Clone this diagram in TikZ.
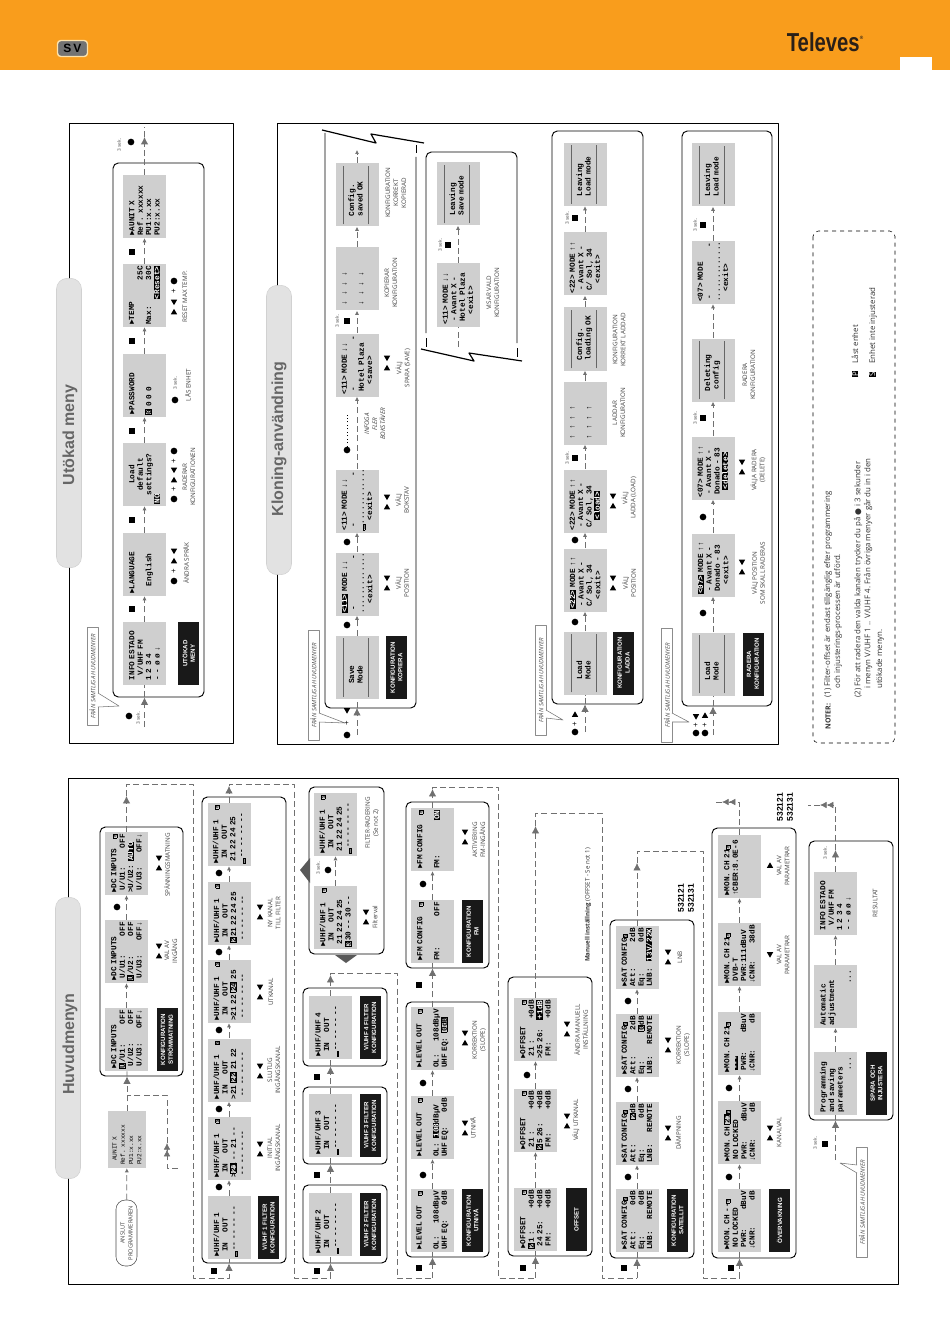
\documentclass[tikz,border=0pt]{standalone}
\usepackage{fontspec}
\usepackage{graphicx}
\setmainfont{Open Sans}
\newfontfamily\lcdfont{Liberation Mono}
\newfontfamily\headfont{Liberation Sans}
\newfontfamily\symfont{DejaVu Sans}
\usetikzlibrary{arrows.meta,fit,shapes.geometric}
\definecolor{lcdgray}{HTML}{CFCFCF}
\definecolor{tabgray}{HTML}{E2E2E2}
\definecolor{flowgray}{HTML}{707070}
\definecolor{headorange}{HTML}{F99D1C}
\definecolor{logodark}{HTML}{2A2018}
\lineskip=0pt
\lineskiplimit=-4pt
\newcommand{\inv}[1]{{\setlength{\fboxsep}{0.3pt}\colorbox{black}{\textcolor{white}{#1}}}}
\newcommand{\cur}[1]{{\setlength{\fboxsep}{0.1pt}\setlength{\fboxrule}{0.4pt}\fbox{#1}}}
\newcommand{\lk}{{\setlength{\fboxsep}{0.1pt}\setlength{\fboxrule}{0.3pt}\fbox{\fontsize{3.6}{3.6}\selectfont S}}}
\newcommand{\dashrow}{\textcolor{black!60}{\rule[1.6pt]{44pt}{.5pt}}}
\tikzset{
  lcd/.style={rotate=90,fill=lcdgray,minimum width=47.25pt,minimum height=32.25pt,inner xsep=1.6pt,inner ysep=0pt,
    text width=44pt,align=left,font=\lcdfont\bfseries\fontsize{5.8}{6.3}\selectfont},
  tag/.style={rotate=90,fill=black!90,text=white,minimum width=47.25pt,minimum height=15.75pt,inner sep=0pt,
    align=center,font=\headfont\bfseries\fontsize{4.6}{5.8}\selectfont},
  panel/.style={draw,fill=white,line width=.7pt,rounded corners=4pt,inner sep=0pt},
  frame/.style={line width=.7pt},
  tabbar/.style={rotate=90,fill=tabgray,draw=black!18,rounded corners=8pt,minimum height=18.75pt},
  tabtext/.style={rotate=90,inner sep=0pt,text=black!60,font=\headfont\bfseries\fontsize{12}{13}\selectfont},
  flow/.style={flowgray,line width=.5pt,dash pattern=on 4.5pt off 2.5pt,-{Latex[length=3pt,width=3pt]}},
  bigflow/.style={flow,-{Latex[length=5.5pt,width=5.5pt]}},
  plainflow/.style={flow,-},
  twotip/.style={flow,-{Latex[length=5pt,width=5pt]Latex[length=5pt,width=5pt]}},
  pressdot/.style={circle,fill=black,minimum size=5pt,inner sep=0pt},
  pressbox/.style={rectangle,fill=black,minimum size=4.6pt,inner sep=0pt},
  upkey/.style={regular polygon,regular polygon sides=3,fill=black,minimum size=5.5pt,inner sep=0pt},
  downkey/.style={upkey,shape border rotate=180},
  capnote/.style={rotate=90,align=center,inner sep=0pt,text=black!75,font=\fontsize{4.7}{6}\selectfont},
  footnote/.style={rotate=90,anchor=west,inner sep=0pt,text=black!80,font=\fontsize{5.9}{6}\selectfont},
  fromall/.style={rotate=90,draw=black!45,fill=white,minimum height=8pt,inner sep=0pt,text=black!70,
    font=\itshape\fontsize{4.5}{5}\selectfont},
  calltip/.style={draw=black!55,fill=white,line width=.4pt},
  serial/.style={rotate=90,align=center,inner sep=0pt,font=\headfont\bfseries\fontsize{6.3}{7.5}\selectfont},
  seclabel/.style={rotate=90,inner sep=0pt,font=\fontsize{3.6}{4}\selectfont,text=black!70}
}
\begin{document}
\begin{tikzpicture}[x=0.75pt,y=-0.75pt,line join=round]
\useasboundingbox (0,0) rectangle (950,1344);
% head
\fill[headorange] (0,0) rectangle (950,70);
\fill[white] (900,57) rectangle (932,70);
\node[draw=yellow!30!orange!30,line width=1pt,fill=black!55,rounded corners=2.5pt,minimum width=22.5pt,minimum height=12pt,inner sep=0pt,font=\headfont\bfseries\fontsize{9}{9}\selectfont] (lang) at (72.5,48.5) {S\,V};
\node[text=logodark,inner sep=0pt,font=\headfont\bfseries\fontsize{19.5}{20}\selectfont] (brand) at (825,42) {\scalebox{.78}[1]{Televes}\raisebox{9pt}{\fontsize{3.5}{4}\selectfont ®}};
% frames
\draw[frame] (68,778) rectangle (898,1284);
\draw[frame] (69,123) rectangle (233,743);
\draw[frame] (277,123) rectangle (778,744);
\node[tabbar,minimum width=211pt] (tabhuvud) at (68,1038) {};
\node[tabbar,minimum width=217pt] (tabutok) at (69,423) {};
\node[tabbar,minimum width=217pt] (tabklon) at (279,430) {};
\node[tabtext] (texthuvud) at (70,1044) {Huvudmenyn};
\node[tabtext] (textutok) at (70,435) {Utökad meny};
\node[tabtext] (textklon) at (279,439) {Kloning-användning};
% panels
\node[panel,fit={(100,827)(183,1076)}] (dcbox) {};
\node[panel,fit={(202,797)(286,1263)}] (uhfbox) {};
\node[panel,fit={(303,1185)(387,1263)}] (vtwo) {};
\node[panel,fit={(303,1087)(387,1164)}] (vthree) {};
\node[panel,fit={(303,988)(387,1066)}] (vfour) {};
\node[panel,fit={(309,787)(384,954)}] (erasebox) {};
\node[panel,fit={(406,1002)(489,1257)}] (levelbox) {};
\node[panel,fit={(406,802)(489,968)}] (fmbox) {};
\node[panel,fit={(508,977)(592,1256)}] (offbox) {};
\node[panel,fit={(610,920)(694,1258)}] (satbox) {};
\node[panel,fit={(712,828)(796,1258)}] (monbox) {};
\node[panel,fit={(809,841)(893,1120)}] (savebox) {};
\node[panel,fit={(113,163)(204,697)}] (utokbox) {};
\node[panel,fit={(552,131)(643,704)}] (loadbox) {};
\node[panel,fit={(682,131)(772,706)}] (delbox) {};
% broken panels
\draw[line width=.7pt,rounded corners=4pt] (325,133) -- (325,708) -- (416,708) -- (416,157);
\draw[line width=.7pt] (416,145) -- (416,153);
\draw[line width=.9pt] (322,130) -- (376,143) -- (371,134) -- (424,143);
\draw[line width=.7pt,rounded corners=4pt] (426,333) -- (426,152) -- (517,152) -- (517,343);
\draw[line width=.7pt] (426,338) -- (426,347) (517,348) -- (517,357);
\draw[line width=.9pt] (421,349) -- (474,361) -- (469,353) -- (522,361);
% Huvudmenyn
\node[lcd,minimum width=42.75pt,minimum height=28.5pt,text width=38pt,font=\lcdfont\fontsize{4.6}{6.2}\selectfont] (aunit) at (127,1139.5) {~~AUNIT X\\Ref. xxxxxx\\PU1:x.xx\\PU2:x.xx};
\node[draw=black!70,fill=white,rounded corners=7pt,rotate=90,minimum width=49.5pt,minimum height=15.75pt,inner sep=0pt,align=center,font=\fontsize{4.3}{6}\selectfont,text=black!75] (anslut) at (126.5,1233) {ANSLUT\\PROGRAMMERAREN};
\node[lcd] (dc1) at (126.5,1039.5) {►DC INPUTS\\\cur{U}/U1:\hfill OFF\\~U/U2:\hfill OFF\\~U/U3:\hfill OFF↓};
\node[lcd] (dc2) at (126.5,951.5) {►DC INPUTS\\~U/U1:\hfill OFF\\\cur{U}/U2:\hfill OFF\\~U/U3:\hfill OFF↓};
\node[lcd] (dc3) at (126.5,863.5) {►DC INPUTS\hfill\lk\\~U/U1:\hfill OFF\\>U/U2: \inv{AUTO}\\~U/U3:\hfill OFF↓};
\node[tag] (tagdc) at (167,1039.5) {KONFIGURATION\\STRÖMMATNING};
\node[lcd] (uhf1) at (229,1227.5) {►UHF/UHF 1\\~~IN~~~~OUT\\\cur{\_}--~--~--~--\\~};
\node[lcd] (uhf2) at (229,1148.5) {►UHF/UHF 1\hfill\lk\\~~IN~~~~OUT\\>\cur{21}~--~21~--\\~--~--~--~--};
\node[lcd] (uhf3) at (229,1070) {►UHF/UHF 1\hfill\lk\\~~IN~~~~OUT\\>21~\cur{22}~21~22\\~--~--~--~--};
\node[lcd] (uhf4) at (229,991.5) {►UHF/UHF 1\hfill\lk\\~~IN~~~~OUT\\>21~22~\cur{24}~25\\~--~--~--~--};
\node[lcd] (uhf5) at (229,913.5) {►UHF/UHF 1\hfill\lk\\~~IN~~~~OUT\\\cur{2}21~22~24~25\\~--~--~--~--};
\node[lcd] (uhf6) at (229,834.5) {►UHF/UHF 1\hfill\lk\\~~IN~~~~OUT\\~21~22~24~25\\\cur{\_}--~--~--~--};
\node[tag] (taguhf) at (268.5,1227.5) {V/UHF 1 FILTER\\KONFIGURATION};
\node[lcd] (vtwol) at (330.5,1224.5) {►UHF/UHF 2\\~~IN~~~~OUT\\\cur{\_}--~--~--~--\\~};
\node[tag] (tagvtwo) at (370,1224.5) {V/UHF 2 FILTER\\KONFIGURATION};
\node[lcd] (vthreel) at (330.5,1125.5) {►UHF/UHF 3\\~~IN~~~~OUT\\\cur{\_}--~--~--~--\\~};
\node[tag] (tagvthree) at (370,1125.5) {V/UHF 3 FILTER\\KONFIGURATION};
\node[lcd] (vfourl) at (330.5,1027.5) {►UHF/UHF 4\\~~IN~~~~OUT\\\cur{\_}--~--~--~--\\~};
\node[tag] (tagvfour) at (370,1027.5) {V/UHF 4 FILTER\\KONFIGURATION};
\node[lcd] (erase1) at (335.5,917.5) {►UHF/UHF 1\hfill\lk\\~~IN~~~~OUT\\~21~22~24~25\\\cur{3}30~--~30~--};
\node[lcd] (erase2) at (335.5,824.5) {►UHF/UHF 1\hfill\lk\\~~IN~~~~OUT\\~21~22~24~25\\\cur{\_}--~--~--~--};
\node[lcd] (level1) at (432.5,1220.5) {►LEVEL OUT\hfill\lk\\~\\OL:\hfill 108dBµV\\UHF EQ:\hfill 0dB};
\node[lcd] (level2) at (432.5,1127.5) {►LEVEL OUT\hfill\lk\\~\\OL:~~\inv{108}dBµV\\UHF EQ:\hfill 0dB};
\node[lcd] (level3) at (432.5,1038.5) {►LEVEL OUT\hfill\lk\\~\\OL:\hfill 108dBµV\\UHF EQ:~~\cur{0dB}};
\node[tag] (taglevel) at (472.5,1220.5) {KONFIGURATION\\UTNIVÅ};
\node[lcd] (fm1) at (432.5,931.5) {►FM CONFIG\hfill\lk\\~\\FM:\hfill OFF\\~};
\node[lcd] (fm2) at (432.5,839.5) {►FM CONFIG\hfill\lk\\~\\FM:\hfill\inv{ON}\\~};
\node[tag] (tagfm) at (472.5,931.5) {KONFIGURATION\\FM};
\node[lcd] (off1) at (535.5,1219.5) {►OFFSET\hfill\lk\\\cur{2}1~:\hfill +0dB\\~24~25:\hfill +0dB\\~FM:\hfill +0dB};
\node[lcd] (off2) at (535.5,1120.5) {►OFFSET\hfill\lk\\~21~:\hfill +0dB\\\cur{2}5~26:\hfill +0dB\\~FM:\hfill +0dB};
\node[lcd] (off3) at (535.5,1029.5) {►OFFSET\hfill\lk\\~21~:\hfill +0dB\\>25~26:\hfill\inv{+1dB}\\~FM:\hfill +0dB};
\node[tag] (tagoff) at (576.5,1219.5) {OFFSET};
\node[lcd] (sat1) at (637,1220.5) {►SAT CONFIG\lk\\Att:\hfill 0dB\\Eq:\hfill 0dB\\LNB:\hfill REMOTE};
\node[lcd] (sat2) at (637,1133.5) {►SAT CONFIG\lk\\Att:\hfill\cur{2}dB\\Eq:\hfill 0dB\\LNB:\hfill REMOTE};
\node[lcd] (sat3) at (637,1045.5) {►SAT CONFIG\lk\\Att:\hfill 2dB\\Eq:\hfill\cur{0}dB\\LNB:\hfill REMOTE};
\node[lcd] (sat4) at (637,957.5) {►SAT CONFIG\lk\\Att:\hfill 2dB\\Eq:\hfill 0dB\\LNB:\hfill\inv{13V/22K}};
\node[tag] (tagsat) at (677.5,1220.5) {KONFIGURATION\\SATELLIT};
\node[lcd] (mon1) at (739.5,1220.5) {►MON. CH --\lk\\~NO LOCKED\\~PWR:\hfill dBuV\\↓CNR:\hfill dB};
\node[lcd] (mon2) at (739.5,1132.5) {►MON. CH \cur{21}\lk\\~NO LOCKED\\~PWR:\hfill dBuV\\↓CNR:\hfill dB};
\node[lcd] (mon3) at (739.5,1043.5) {►MON. CH 21\lk\\~\inv{---}\\~PWR:\hfill dBuV\\↓CNR:\hfill dB};
\node[lcd] (mon4) at (739.5,954.5) {►MON. CH 21\lk\\~DVB-T\\~PWR:111dBuV\\↓CNR:\hfill 38dB};
\node[lcd] (mon5) at (739.5,866.5) {►MON. CH 21\lk\\↑CBER:8.0E-6\\~\\~};
\node[tag] (tagmon) at (779.5,1220.5) {ÖVERVAKNING};
\node[lcd] (prog1) at (835.5,1083.5) {Programming\\and saving\\parameters\\\hfill ...~~};
\node[lcd] (prog2) at (835.5,996.5) {Automatic\\adjustment\\~\\\hfill ...~~};
\node[lcd] (prog3) at (835.5,903.5) {~INFO ESTADO\\~~~V/UHF FM\\~1 2 3 4\\~- - ø ø ↓};
\node[tag] (tagprog) at (876.5,1083.5) {SPARA OCH\\INJUSTERA};
% Utokad meny
\node[lcd] (ut1) at (144.5,653.5) {~INFO ESTADO\\~~~V/UHF FM\\~1 2 3 4\\~- - ø ø ↓};
\node[lcd] (ut2) at (144.5,564.5) {►LANGUAGE\\~\\~~~English\\~};
\node[lcd] (ut3) at (144.5,474.5) {\centering Load\\default\\settings?\\\inv{NO}};
\node[lcd] (ut4) at (144.5,385.5) {►PASSWORD\\~\\\cur{0}~0~0~0\\~};
\node[lcd] (ut5) at (144.5,295.5) {►TEMP\\\hfill 25C~\\Max:\hfill 30C~\\\hfill\inv{<Reset>}};
\node[lcd] (ut6) at (144.5,206.5) {►AUNIT X\\Ref. xxxxxx\\PU1:x.xx\\PU2:x.xx};
\node[tag] (tagut) at (188.5,653.5) {UTÖKAD\\MENY};
% Kloning
\node[lcd] (cp1) at (357,667.5) {\dashrow\\~~~~~Save\\~~~~~Mode\\\dashrow};
\node[lcd] (cp2) at (357,584) {\inv{<11>} MODE ↓↓\\~-\hfill -~\\.............\\~~~~<exit>};
\node[lcd] (cp3) at (357,501) {<11> MODE ↓↓\\~-\hfill -~\\\cur{\_}............\\~~~~<exit>};
\node[lcd] (cp4) at (357,365) {<11> MODE ↓↓\\~-\hfill -~\\~Hotel Plaza\\~~~~<save>};
\node[lcd] (cp5) at (357,279) {~↓~~↓~~↓~~↓\\~\\~↓~~↓~~↓~~↓\\~};
\node[lcd] (cp6) at (357,195) {\dashrow\\~~~Config.\\~~~saved OK\\\dashrow};
\node[tag] (tagcp) at (396.5,667.5) {KONFIGURATION\\KOPIERA};
\node[lcd] (sv1) at (458,295) {<11> MODE ↓↓\\~- Avant X -\\~Hotel Plaza\\~~~~<exit>};
\node[lcd] (sv2) at (458,194) {\dashrow\\~~~Leaving\\~~~Save mode\\\dashrow};
\node[lcd] (ld1) at (585,663) {\dashrow\\~~~~~Load\\~~~~~Mode\\\dashrow};
\node[lcd] (ld2) at (585,580) {\inv{<22>} MODE ↑↑\\~- Avant X -\\~C/ Sol, 34\\~~~~<exit>};
\node[lcd] (ld3) at (585,501) {<22> MODE ↑↑\\~- Avant X -\\~C/ Sol, 34\\~~~~\inv{<load>}};
\node[lcd] (ld4) at (585,413) {~↑~~↑~~↑~~↑\\~\\~↑~~↑~~↑~~↑\\~};
\node[lcd] (ld5) at (585,339) {\dashrow\\~~~Config.\\~~~loading OK\\\dashrow};
\node[lcd] (ld6) at (585,264) {<22> MODE ↑↑\\~- Avant X -\\~C/ Sol, 34\\~~~~<exit>};
\node[lcd] (ld7) at (585,174.5) {\dashrow\\~~~Leaving\\~~~Load mode\\\dashrow};
\node[tag] (tagld) at (623.5,663) {KONFIGURATION\\LADDA};
\node[lcd] (de1) at (713,664) {\dashrow\\~~~~~Load\\~~~~~Mode\\\dashrow};
\node[lcd] (de2) at (713,565) {\inv{<07>} MODE ↑↑\\~- Avant X -\\~Donado - 83\\~~~~<exit>};
\node[lcd] (de3) at (713,468) {<07> MODE ↑↑\\~- Avant X -\\~Donado - 83\\~~~\inv{<delete>}};
\node[lcd] (de4) at (713,370) {\dashrow\\~~~Deleting\\~~~~config\\\dashrow};
\node[lcd] (de5) at (713,272.5) {<07> MODE\\~-\hfill -~\\.............\\~~~~<exit>};
\node[lcd] (de6) at (713,175) {\dashrow\\~~~Leaving\\~~~Load mode\\\dashrow};
\node[tag] (tagde) at (753,664) {RADERA\\KONFIGURATION};
% connectors
\foreach \a/\b in {dc1/dc2,dc2/dc3,uhf1/uhf2,uhf2/uhf3,uhf3/uhf4,uhf4/uhf5,uhf5/uhf6,erase1/erase2,level1/level2,level2/level3,fm1/fm2,
  off1/off2,off2/off3,sat1/sat2,sat2/sat3,sat3/sat4,mon1/mon2,mon2/mon3,mon3/mon4,mon4/mon5,prog1/prog2,prog2/prog3,
  ut1/ut2,ut2/ut3,ut3/ut4,ut4/ut5,ut5/ut6,cp1/cp2,cp2/cp3,cp3/cp4,cp4/cp5,cp5/cp6,sv1/sv2,
  ld1/ld2,ld2/ld3,ld3/ld4,ld4/ld5,ld5/ld6,ld6/ld7,de1/de2,de2/de3,de3/de4,de4/de5,de5/de6,anslut/aunit}
  \draw[flow] (\a) -- (\b);
\draw[bigflow] (aunit) -- (aunit |- dcbox.south);
\draw[plainflow] (aunit |- dcbox.south) -- (dc1);
\coordinate (loopa) at (178,1168);
\coordinate (loopb) at (167,1143);
\draw[twotip] (loopa) -- (167,1168) -- (loopb);
\draw[plainflow] (loopb) -- (167,1095) -- (126.5,1095);
\coordinate (dcout) at (126.5,796);
\draw[bigflow] (dc3) -- (dcout);
\draw[plainflow] (dcout) -- (126.5,784) -- (193,784) -- (193,1278) -- (229,1278) -- (229,1270);
\draw[bigflow] (229,1270) -- (uhf1 |- uhfbox.south);
\draw[plainflow] (uhf1 |- uhfbox.south) -- (uhf1);
\draw[bigflow] (uhf6) -- (229,786);
\draw[plainflow] (229,786) -- (229,784) -- (294,784) -- (294,1278) -- (330.5,1278);
\draw[bigflow] (330.5,1278) -- (vtwol |- vtwo.south);
\draw[plainflow] (vtwol |- vtwo.south) -- (vtwol);
\draw[bigflow] (vtwol) -- (vthreel |- vthree.south);
\draw[plainflow] (vthreel |- vthree.south) -- (vthreel);
\draw[bigflow] (vthreel) -- (vfourl |- vfour.south);
\draw[plainflow] (vfourl |- vfour.south) -- (vfourl);
\draw[bigflow] (vfourl) -- (330.5,975);
\draw[plainflow] (330.5,975) -- (330.5,973) -- (397,973) -- (397,1278) -- (432.5,1278);
\draw[bigflow] (432.5,1278) -- (level1 |- levelbox.south);
\draw[plainflow] (level1 |- levelbox.south) -- (level1);
\draw[bigflow] (level3) -- (fm1 |- fmbox.south);
\draw[plainflow] (fm1 |- fmbox.south) -- (fm1);
\draw[bigflow] (fm2) -- (432.5,789);
\draw[plainflow] (432.5,789) -- (432.5,787) -- (498,787) -- (498,1278) -- (535.5,1278);
\draw[bigflow] (535.5,1278) -- (off1 |- offbox.south);
\draw[plainflow] (off1 |- offbox.south) -- (off1);
\draw[bigflow] (off3) -- (535.5,826);
\draw[plainflow] (535.5,826) -- (535.5,813) -- (602,813) -- (602,1278) -- (637,1278);
\draw[bigflow] (637,1278) -- (sat1 |- satbox.south);
\draw[plainflow] (sat1 |- satbox.south) -- (sat1);
\draw[bigflow] (sat4) -- (637,863);
\draw[plainflow] (637,863) -- (637,851) -- (703,851) -- (703,1278) -- (739.5,1278);
\draw[bigflow] (739.5,1278) -- (mon1 |- monbox.south);
\draw[plainflow] (mon1 |- monbox.south) -- (mon1);
\coordinate (monback) at (722,802);
\draw[twotip] (mon5) -- (739.5,802) -- (monback);
\draw[plainflow] (monback) -- (713,802);
\coordinate (progin) at (835.5,1160);
\draw[bigflow] (progin) -- (prog1 |- savebox.south);
\draw[plainflow] (prog1 |- savebox.south) -- (prog1);
\coordinate (progout) at (835.5,850);
\draw[bigflow] (prog3) -- (progout);
\coordinate (progback) at (820,805);
\draw[twotip] (progout) -- (835.5,805) -- (progback);
\draw[plainflow] (progback) -- (808,805);
\coordinate (utin) at (144.5,727);
\coordinate (utout) at (144.5,137);
\draw[bigflow] (utin) -- (ut1 |- utokbox.south);
\draw[plainflow] (ut1 |- utokbox.south) -- (ut1);
\draw[bigflow] (ut6) -- (utout);
\draw[plainflow] (utout) -- (144.5,127);
\coordinate (cpin) at (357,735);
\draw[bigflow] (cpin) -- (357,708);
\draw[plainflow] (357,708) -- (cp1);
\draw[flow] (cp6) -- (357,150);
\coordinate (svin) at (458,347);
\draw[plainflow] (svin) -- (sv1);
\coordinate (ldin) at (585,732);
\draw[bigflow] (ldin) -- (ld1 |- loadbox.south);
\draw[plainflow] (ld1 |- loadbox.south) -- (ld1);
\coordinate (dein) at (713,735);
\draw[bigflow] (dein) -- (de1 |- delbox.south);
\draw[plainflow] (de1 |- delbox.south) -- (de1);
\draw[dotted,line width=.6pt] (347,450) -- (347,415);
% big arrows of the filter eraser
\fill[black!65] (300,870) -- (310,858) -- (310,883) -- cycle;
\fill[black!65] (346,963) -- (335,955) -- (357,955) -- cycle;
% keys
\foreach \x/\y [count=\n] in {117/907,219/1187,219/1109,219/1030,219/952,219/873,328/870,423/1175,423/1083,423/884,527/1075,
  628/1177,628/1089,628/1001,729/1177,729/1088,129/716,131/142,174/281,175/400,174/451,174/499,174/581,
  347/625,347/542,347/450,347/735,575/622,575/540,575/732,703/613,703/517,696/733,705/733}
  \node[pressdot] (press\n) at (\x,\y) {};
\foreach \x/\y [count=\n] in {214/1271,317/1271,317/1175,317/1077,419/1268,419/985,523/1268,624/1268,731/1268,825/1144,
  132/252,132/341,132/431,132/520,132/609,347/321,448/245,575/458,575/218,703/418,703/225}
  \node[pressbox] (mode\n) at (\x,\y) {};
\foreach \x/\y [count=\n] in {159/863,159/951,260/1149,260/1071,260/992,260/912,366/917,465/1128,465/1038,465/837,567/1121,567/1029,
  668/1133,668/1045,668/957,770/1133,387/583,387/502,387/363,613/583,613/501,742/567,742/467,174/307,174/475,174/556}{
  \node[downkey] (down\n) at (\x,\y-5.5) {};
  \node[upkey] (up\n) at (\x,\y+5.5) {};
}
\node[downkey] (downa) at (770,954) {};
\node[upkey] (upa) at (770,866) {};
\node[downkey] (downb) at (347,710) {};
\node[upkey] (upb) at (575,715) {};
\node[downkey] (downc) at (696,716) {};
\node[upkey] (upc) at (705,716) {};
\foreach \x/\y [count=\n] in {174/291,174/461,174/489,174/571,347/723,575/724,696/725,705/725}
  \node[inner sep=0pt,rotate=90,font=\fontsize{6}{6}\selectfont] (plus\n) at (\x,\y) {+};
\foreach \x/\y [count=\n] in {318/868,815/1143,825/853,138/718,119/145,175/383,337/321,440/245,567/458,567/218,695/418,695/225}
  \node[seclabel] (sek\n) at (\x,\y) {3 sek.};
% captions
\foreach \x/\y/\txt [count=\n] in {171/951/{VAL AV\\INGÅNG},167/865/{SPÄNNINGSMATNING},
  274/1148/{INITIAL\\INGÅNGSKANAL},274/1070/{SLUTLIG\\INGÅNGSKANAL},271/992/{UTKANAL},274/913/{NY KANAL\\TILL FILTER},
  375/917/{Filterval},372/823/{FILTER-RADERING\\(Se not 2)},473/1128/{UTNIVÅ},479/1040/{KORREKTION\\(SLOPE)},479/840/{AKTIVERING\\FM-INGÅNG},
  576/1120/{VÄLJ UTKANAL},581/1030/{ÄNDRA MANUELL\\INSTÄLLNING},678/1133/{DÄMPNING},683/1045/{KORREKTION\\(SLOPE)},680/957/{LNB},
  779/1132/{KANALVAL},783/955/{VAL AV\\PARAMETRAR},783/866/{VAL AV\\PARAMETRAR},875/903/{RESULTAT},
  185/297/{RESET MAX TEMP.},188/385/{LÅS ENHET},189/477/{RADERAR\\KONFIGURATIONEN},186/563/{ÄNDRA SPRÅK},
  402/583/{VÄLJ\\POSITION},402/500/{VÄLJ\\BOKSTAV},403/368/{VÄLJ\\SPARA (SAVE)},391/283/{KOPIERAR\\KONFIGURATION},
  396/193/{KONFIGURATION\\KORREKT\\KOPIERAD},375/424/{\itshape INFOGA\\\itshape FLER\\\itshape BOKSTÄVER},493/293/{VISAR VALD\\KONFIGURATION},
  629/583/{VÄLJ\\POSITION},629/498/{VÄLJ\\LADDA (LOAD)},619/413/{LADDAR\\KONFIGURATION},619/340/{KONFIGURATION\\KORREKT LADDAD},
  758/573/{VÄLJ POSITION\\SOM SKALL RADERAS},758/470/{VÄLJA RADERA\\(DELETE)},749/375/{RADERA\\KONFIGURATION}}
  \node[capnote] (capnote\n) at (\x,\y) {\txt};
\node[rotate=90,inner sep=0pt,text=black!80,font=\fontsize{4.6}{5}\selectfont] (manual) at (588,905) {\textbf{Manuell inställning} (OFFSET - Se not 1)};
\node[serial] (seriala) at (686,898) {532121\\532131};
\node[serial] (serialb) at (785,807) {532121\\532131};
% from all menus
\node[fromall,minimum width=73.5pt] (callu) at (92.5,676) {FRÅN SAMTLIGA HUVUDMENYER};
\draw[calltip] (98,693) -- (119,706) -- (98,707);
\node[fromall,minimum width=82.5pt] (callk) at (313.5,685) {FRÅN SAMTLIGA HUVUDMENYER};
\draw[calltip] (319,713) -- (345,723) -- (319,722);
\node[fromall,minimum width=82.5pt] (calll) at (540.5,680) {FRÅN SAMTLIGA HUVUDMENYER};
\draw[calltip] (546,710) -- (563,720) -- (546,718);
\node[fromall,minimum width=85.5pt] (calld) at (667,685) {FRÅN SAMTLIGA HUVUDMENYER};
\draw[calltip] (672,713) -- (689,722) -- (672,722);
\node[fromall,minimum width=82.5pt] (callm) at (862,1202) {FRÅN SAMTLIGA HUVUDMENYER};
\draw[calltip] (857,1165) -- (840,1163) -- (857,1173);
% notes
\draw[dashed,rounded corners=4pt,line width=.4pt] (813,231) rectangle (895,743);
\node[footnote,font=\bfseries\fontsize{5.3}{6}\selectfont] (noter) at (828,730) {NOTER:};
\node[footnote] (noteone) at (828,698) {(1) Filter-offset är endast tillgänglig efter programmering};
\node[footnote] (noteonb) at (838,689) {och injusterings-processen är utförd.};
\node[footnote] (notetwo) at (858,698) {(2) För att radera den valda kanalen trycker du på {\symfont ●} i 3 sekunder};
\node[footnote] (notetwb) at (868,689) {i menyn V/UHF 1 .. V/UHF 4. Från övriga menyer går du in i den};
\node[footnote] (notetwc) at (880,689) {utökade menyn.};
\node[footnote] (legendp) at (855,377) {\inv{P}\quad Låst enhet};
\node[footnote] (legends) at (873,377) {\inv{S}\quad Enhet inte injusterad};
\end{tikzpicture}
\end{document}
